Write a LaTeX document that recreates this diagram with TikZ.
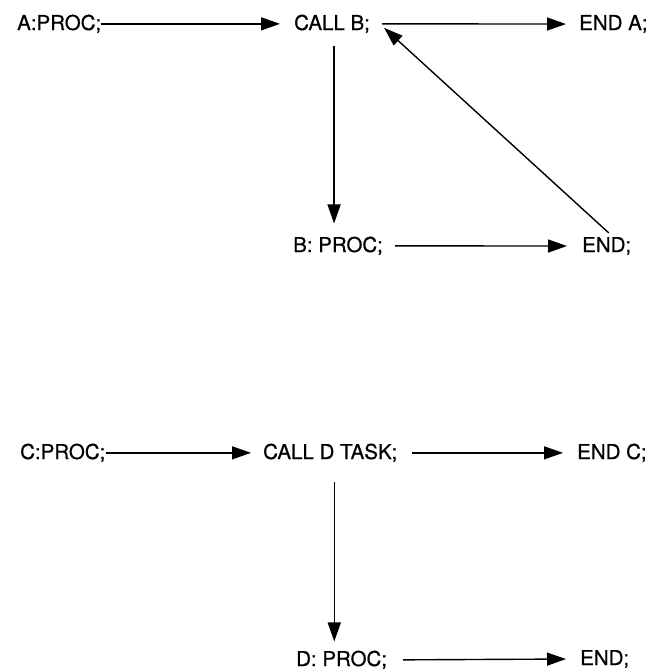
\documentclass[tikz,border=0pt]{standalone}
\usepackage{fontspec}
\setmainfont{TeX Gyre Heros}
\newfontfamily\hvfont{TeX Gyre Heros}[FakeBold=0.6]
\usetikzlibrary{arrows.meta}
\begin{document}
\begin{tikzpicture}[x=1pt,y=-1pt,
  lbl/.style={anchor=base west,inner sep=0pt,font=\hvfont\fontsize{20.5}{24}\selectfont},
  arr/.style={line width=1.4pt,-{Triangle[length=19pt,width=13pt]}}]
\useasboundingbox (0,0) rectangle (657,670);
% top procedure
\node[lbl] (a)     at (17,30)   {A:PROC;};
\node[lbl] (callb) at (294,30)  {CALL B;};
\node[lbl] (enda)  at (579,30)  {END A;};
\node[lbl] (b)     at (293,252) {B: PROC;};
\node[lbl] (endb)  at (582,252) {END;};
\draw[arr] (a.east) -- ([xshift=-14pt]callb.west);
\draw[arr] ([xshift=12pt]callb.east) -- ([xshift=-13pt]enda.west);
\draw[arr] ([xshift=2pt,yshift=-13pt]callb.south) -- ([xshift=2pt,yshift=13pt]callb.south |- b.north);
\draw[arr] ([xshift=12pt]b.east) -- ([xshift=-15pt]endb.west);
\draw[arr] ([xshift=2pt,yshift=4pt]endb.north) -- ([xshift=14pt,yshift=-4pt]callb.east);
% bottom procedure
\node[lbl] (c)     at (20,459)  {C:PROC;};
\node[lbl] (calld) at (263,459) {CALL D TASK;};
\node[lbl] (endc)  at (577,459) {END C;};
\node[lbl] (d)     at (296,666) {D: PROC;};
\node[lbl] (endd)  at (580,665) {END;};
\draw[arr] (c.east) -- ([xshift=-12pt]calld.west);
\draw[arr] ([xshift=14pt]calld.east) -- ([xshift=-14pt]endc.west);
\draw[arr] ([xshift=4pt,yshift=-20pt]calld.south) -- ([xshift=4pt,yshift=9pt]calld.south |- d.north);
\draw[arr] ([xshift=16pt]d.east) -- ([xshift=-14pt]endd.west);
\end{tikzpicture}
\end{document}
